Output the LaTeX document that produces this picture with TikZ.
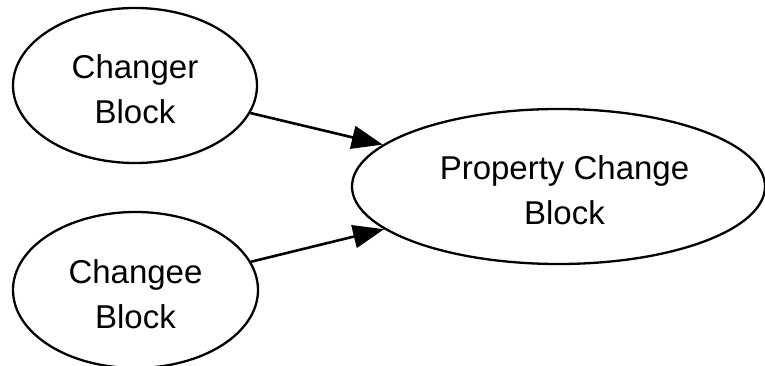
\documentclass[tikz,border=0pt]{standalone}
\usepackage{fontspec}
\setmainfont{Liberation Sans}
\usetikzlibrary{shapes.geometric,arrows.meta}
\begin{document}
\begin{tikzpicture}[x=1pt,y=-1pt,
  block/.style={ellipse,draw=black,line width=2.3pt,inner sep=0pt},
  caption/.style={align=center,inner sep=0pt,font=\fontsize{33}{45}\selectfont},
  link/.style={line width=2.6pt,-{Triangle[length=31pt,width=23pt]}}]
  \useasboundingbox (0,0) rectangle (765,366);
  % the three blocks
  \node[block,minimum width=244pt,minimum height=155pt] (changer) at (135,85.5) {};
  \node[block,minimum width=245pt,minimum height=156pt] (changee) at (135.5,290) {};
  \node[block,minimum width=413pt,minimum height=155pt] (prop) at (558.5,186.5) {};
  % their captions, set a little below each centre
  \node[caption] (changertext) at ([yshift=-4pt]changer.center) {Changer\\Block};
  \node[caption] (changeetext) at ([yshift=-4pt]changee.center) {Changee\\Block};
  \node[caption] (proptext) at ([xshift=6pt,yshift=-4pt]prop.center) {Property Change\\Block};
  % connectors
  \draw[link] (changer) -- (prop);
  \draw[link] (changee) -- (prop);
\end{tikzpicture}
\end{document}
